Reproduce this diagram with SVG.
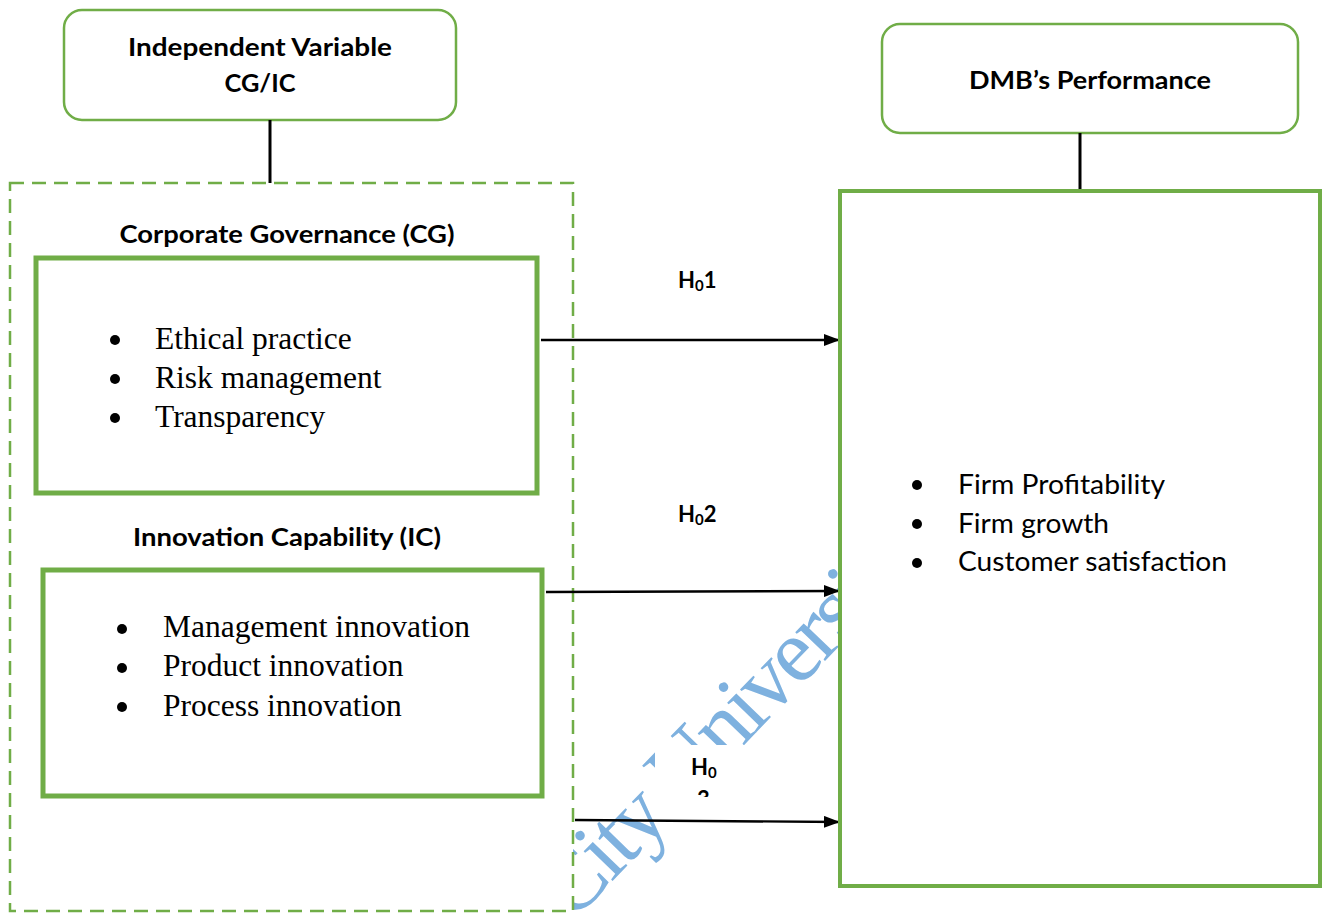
<svg xmlns="http://www.w3.org/2000/svg" width="1326" height="913" viewBox="0 0 1326 913">
  <style>
    .box { fill: none; stroke: #70AD47; }
    .boxw { fill: #fff; stroke: #70AD47; }
    .head { font-family: Lato, "Open Sans", sans-serif; font-weight: bold; font-size: 24px; fill: #000; text-anchor: middle; }
    .item { font-family: "Liberation Serif", "Times New Roman", serif; font-size: 31.5px; fill: #000; }
    .item2 { font-family: Lato, "Open Sans", sans-serif; font-size: 26px; fill: #000; }
    .hyp { font-family: Lato, "Open Sans", sans-serif; font-weight: bold; font-size: 22px; fill: #000; }
    .sub { font-size: 15px; }
    .conn { stroke: #000; stroke-width: 2.4; fill: none; }
    .stem { stroke: #000; stroke-width: 3; }
    .wm { font-family: "Liberation Serif", "Times New Roman", serif; font-size: 90px; letter-spacing: -3.5px; fill: #7EB1DF; }
  </style>
  <defs>
    <marker id="arrow" viewBox="0 0 16 12" refX="16" refY="6" markerWidth="16" markerHeight="12" markerUnits="userSpaceOnUse" orient="auto">
      <path d="M0,0 L16,6 L0,12 Z" fill="#000"/>
    </marker>
  </defs>
  <rect width="1326" height="913" fill="#fff"/>

  <!-- background stamp text -->
  <text class="wm" transform="translate(572,923) rotate(-46)">City University</text>

  <!-- left grouping frame -->
  <g id="independent-frame">
    <rect class="boxw" x="10" y="183" width="563" height="728" stroke-width="2.5" stroke-dasharray="14 8"/>
  </g>

  <g id="independent-variable">
    <rect class="boxw" x="64" y="10" width="392" height="110" rx="18" stroke-width="2.5"/>
    <text class="head" x="260" y="56" textLength="264" lengthAdjust="spacingAndGlyphs">Independent Variable</text>
    <text class="head" x="260" y="92" textLength="71" lengthAdjust="spacingAndGlyphs">CG/IC</text>
  </g>

  <g id="cg-title">
    <text class="head" x="287" y="243" textLength="335" lengthAdjust="spacingAndGlyphs">Corporate Governance (CG)</text>
  </g>

  <g id="corporate-governance">
    <rect class="box" x="36" y="258" width="501" height="235" stroke-width="5"/>
    <circle cx="115" cy="340" r="5"/>
    <circle cx="115" cy="379" r="5"/>
    <circle cx="115" cy="418" r="5"/>
    <text class="item" x="155" y="349">Ethical practice</text>
    <text class="item" x="155" y="388">Risk management</text>
    <text class="item" x="155" y="427">Transparency</text>
  </g>

  <g id="ic-title">
    <text class="head" x="287" y="546" textLength="308" lengthAdjust="spacingAndGlyphs">Innovation Capability (IC)</text>
  </g>

  <g id="innovation-capability">
    <rect class="box" x="43" y="570" width="499" height="226" stroke-width="5"/>
    <circle cx="122" cy="629" r="5"/>
    <circle cx="122" cy="668" r="5"/>
    <circle cx="122" cy="707" r="5"/>
    <text class="item" x="163" y="637">Management innovation</text>
    <text class="item" x="163" y="676">Product innovation</text>
    <text class="item" x="163" y="716">Process innovation</text>
  </g>

  <g id="dmb-performance">
    <rect class="boxw" x="882" y="24" width="416" height="109" rx="18" stroke-width="2.5"/>
    <text class="head" x="1090" y="89" textLength="242" lengthAdjust="spacingAndGlyphs">DMB’s Performance</text>
  </g>

  <!-- connectors -->
  <g id="connectors">
    <line class="stem" x1="270" y1="120" x2="270" y2="183"/>
    <line class="stem" x1="1080" y1="133" x2="1080" y2="189"/>
    <line class="conn" x1="541" y1="340" x2="840" y2="340" marker-end="url(#arrow)"/>
    <line class="conn" x1="546" y1="592" x2="840" y2="591" marker-end="url(#arrow)"/>
    <line class="conn" x1="575" y1="820" x2="840" y2="822" marker-end="url(#arrow)"/>
  </g>

  <g id="hypothesis-labels">
    <text class="hyp" x="678" y="288">H<tspan class="sub" dy="3">0</tspan><tspan dy="-3">1</tspan></text>
    <text class="hyp" x="678" y="522">H<tspan class="sub" dy="3">0</tspan><tspan dy="-3">2</tspan></text>
    <svg x="655" y="745" width="92" height="52" overflow="hidden">
      <rect width="92" height="52" fill="#fff"/>
      <text class="hyp" x="36" y="30">H<tspan class="sub" dy="3">0</tspan></text>
      <text class="hyp" x="42" y="62">3</text>
    </svg>
  </g>

  <g id="performance-measures">
    <rect class="boxw" x="840" y="191" width="480" height="695" stroke-width="4"/>
    <circle cx="917" cy="485" r="5"/>
    <circle cx="917" cy="524" r="5"/>
    <circle cx="917" cy="563" r="5"/>
    <text class="item2" x="958" y="494" textLength="207" lengthAdjust="spacingAndGlyphs">Firm Profitability</text>
    <text class="item2" x="958" y="533" textLength="151" lengthAdjust="spacingAndGlyphs">Firm growth</text>
    <text class="item2" x="958" y="571" textLength="269" lengthAdjust="spacingAndGlyphs">Customer satisfaction</text>
  </g>
</svg>
